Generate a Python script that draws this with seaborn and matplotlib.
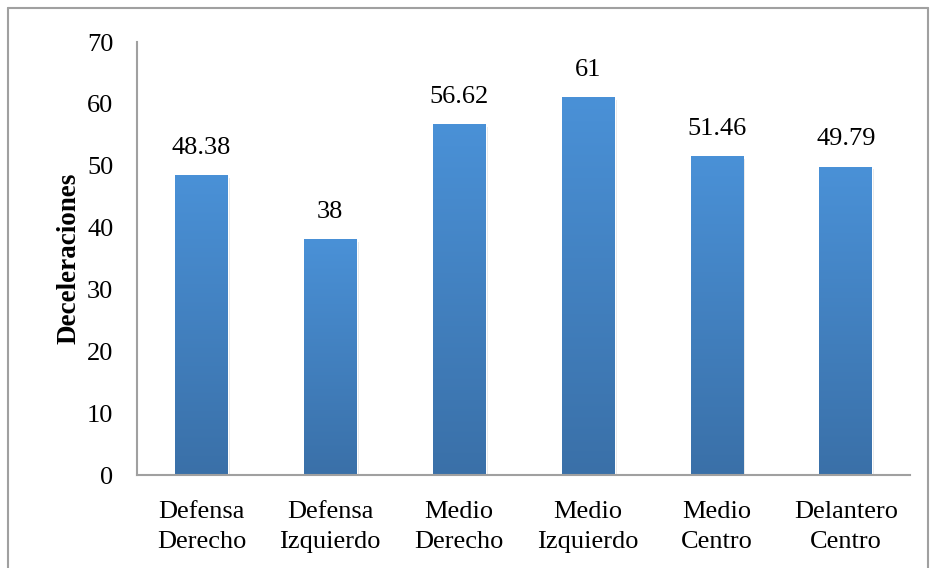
import numpy as np
import pandas as pd
import matplotlib
matplotlib.use("Agg")
import matplotlib.pyplot as plt
import matplotlib.patheffects as pe
from matplotlib.lines import Line2D
import seaborn as sns

categories = ["Defensa\nDerecho", "Defensa\nIzquierdo", "Medio\nDerecho",
              "Medio\nIzquierdo", "Medio\nCentro", "Delantero\nCentro"]
values = [48.38, 38, 56.62, 61, 51.46, 49.79]
value_labels = ["48.38", "38", "56.62", "61", "51.46", "49.79"]
y_ticks = [0, 10, 20, 30, 40, 50, 60, 70]

sns.set_style("white")
plt.rcParams["font.family"] = ["Liberation Serif", "DejaVu Serif"]
plt.rcParams["text.color"] = "black"
plt.rcParams["xtick.color"] = "black"
plt.rcParams["ytick.color"] = "black"
plt.rcParams["axes.labelcolor"] = "black"

df = pd.DataFrame({"pos": categories, "val": values})

fig = plt.figure(figsize=(9.32, 5.68), dpi=100)
ax = fig.add_axes([0.147, 0.1637, 0.8297, 0.7623])

sns.barplot(data=df, x="pos", y="val", ax=ax, width=0.41,
            color="#4a8fd4", saturation=1, errorbar=None)

# vertical gradient fill inside each bar, with a faint drop shadow
top_rgb = np.array([74, 145, 215]) / 255
bot_rgb = np.array([58, 112, 168]) / 255
grad = np.linspace(0, 1, 256)[:, None]
img = top_rgb[None, None, :] * (1 - grad[..., None]) + bot_rgb[None, None, :] * grad[..., None]

for p, lab in zip(ax.patches, value_labels):
    x0, w, h = p.get_x(), p.get_width(), p.get_height()
    p.set_path_effects([pe.SimplePatchShadow(offset=(1.5, -1.5), shadow_rgbFace="#999999", alpha=0.25),
                        pe.Normal()])
    ax.imshow(img, extent=(x0, x0 + w, 0, h), aspect="auto", origin="upper", zorder=p.get_zorder() + 0.1)
    ax.annotate(lab, (x0 + w / 2, h), xytext=(0, 12), textcoords="offset points",
                ha="center", va="bottom", fontsize=19)

ax.set_xlim(-0.5, len(categories) - 0.5)
ax.set_ylim(0, 70)
ax.set_yticks(y_ticks)
ax.tick_params(axis="both", length=0, labelsize=19)
ax.tick_params(axis="y", pad=17)
ax.tick_params(axis="x", pad=19)
for t in ax.get_xticklabels():
    t.set_linespacing(1.45)
ax.set_xlabel("")
ax.set_ylabel("Deceleraciones", fontsize=19.5, fontweight="bold", labelpad=4)

for s in ["top", "right"]:
    ax.spines[s].set_visible(False)
for s in ["left", "bottom"]:
    ax.spines[s].set_color("#a0a0a0")
    ax.spines[s].set_linewidth(1.5)

# outer frame of the chart area
frame_kw = dict(color="#a0a0a0", linewidth=1.5, transform=fig.transFigure)
x_l, x_r, y_t = 7.5 / 932, 928 / 932, 1 - 7.5 / 568
fig.add_artist(Line2D([x_l, x_l], [0, y_t], **frame_kw))
fig.add_artist(Line2D([x_l, x_r], [y_t, y_t], **frame_kw))
fig.add_artist(Line2D([x_r, x_r], [0, y_t], **frame_kw))

fig.savefig("out.png", dpi=100)
